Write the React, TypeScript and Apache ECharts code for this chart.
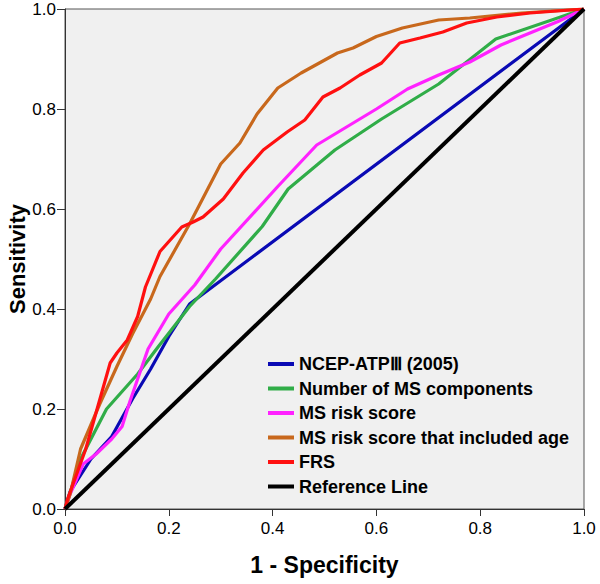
import React, { useEffect, useRef } from "react";
import * as echarts from "echarts";

const seriesNames = [
  "NCEP-ATPⅢ (2005)",
  "Number of MS components",
  "MS risk score",
  "MS risk score that included age",
  "FRS",
  "Reference Line",
];

const xTitle = "1 - Specificity";
const yTitle = "Sensitivity";

const ncep: number[][] = [
  [0, 0], [0.01, 0.035], [0.05, 0.1], [0.09, 0.145], [0.13, 0.22], [0.165, 0.28],
  [0.2, 0.345], [0.24, 0.41], [1, 1],
];

const msComponents: number[][] = [
  [0, 0], [0.03, 0.1], [0.08, 0.2], [0.14, 0.27], [0.18, 0.325], [0.24, 0.405],
  [0.29, 0.46], [0.38, 0.565], [0.43, 0.64], [0.52, 0.718], [0.61, 0.78],
  [0.72, 0.85], [0.83, 0.94], [1, 1],
];

const msRisk: number[][] = [
  [0, 0], [0.01, 0.03], [0.035, 0.09], [0.06, 0.11], [0.09, 0.14], [0.11, 0.165],
  [0.125, 0.215], [0.16, 0.32], [0.2, 0.39], [0.25, 0.448], [0.3, 0.52],
  [0.41, 0.645], [0.485, 0.728], [0.6, 0.8], [0.66, 0.84], [0.72, 0.868],
  [0.78, 0.894], [0.84, 0.928], [0.95, 0.975], [1, 1],
];

const msRiskAge: number[][] = [
  [0, 0], [0.01, 0.03], [0.03, 0.12], [0.067, 0.21], [0.1, 0.285], [0.13, 0.35],
  [0.165, 0.42], [0.183, 0.465], [0.24, 0.57], [0.275, 0.64], [0.3, 0.69],
  [0.337, 0.732], [0.37, 0.79], [0.41, 0.842], [0.455, 0.872], [0.525, 0.912],
  [0.555, 0.922], [0.6, 0.945], [0.65, 0.962], [0.72, 0.978], [0.78, 0.982],
  [0.88, 0.992], [1, 1],
];

const frs: number[][] = [
  [0, 0], [0.005, 0.02], [0.04, 0.12], [0.087, 0.292], [0.1, 0.312], [0.12, 0.338],
  [0.14, 0.385], [0.155, 0.444], [0.183, 0.515], [0.225, 0.564], [0.247, 0.574],
  [0.266, 0.584], [0.305, 0.62], [0.343, 0.672], [0.382, 0.718], [0.428, 0.754],
  [0.462, 0.778], [0.497, 0.824], [0.53, 0.842], [0.568, 0.868], [0.61, 0.892],
  [0.645, 0.932], [0.684, 0.942], [0.728, 0.954], [0.774, 0.972], [0.832, 0.984],
  [0.896, 0.992], [1, 1],
];

const reference: number[][] = [
  [0, 0], [1, 1],
];

const seriesData = [ncep, msComponents, msRisk, msRiskAge, frs, reference];
const colors = ["#0a0ab4", "#30ad48", "#ff22ff", "#c8681c", "#ff1010", "#000000"];
const widths = [3.2, 3.2, 3.2, 3.2, 3.2, 4];

export default function App() {
  const ref = useRef<HTMLDivElement>(null);
  useEffect(() => {
    if (!ref.current) return;
    const chart = echarts.init(ref.current, undefined, { renderer: "svg" });
    const font = "Liberation Sans, Arial, sans-serif";
    chart.setOption({
      animation: false,
      grid: {
        left: 65,
        right: 16,
        top: 9,
        bottom: 75,
        show: true,
        backgroundColor: "#f0f0f0",
        borderColor: "#555",
        borderWidth: 1,
        outerBoundsMode: "none",
        containLabel: false,
      },
      graphic: [
        {
          type: "text",
          x: 17,
          y: 259,
          rotation: Math.PI / 2,
          style: {
            text: yTitle,
            fill: "#000",
            font: `bold 22px ${font}`,
            align: "center",
            verticalAlign: "middle",
          },
        },
      ],
      legend: {
        orient: "vertical",
        left: 263,
        top: 350,
        icon: "rect",
        itemWidth: 26,
        itemHeight: 4,
        itemGap: 6.5,
        data: seriesNames,
        textStyle: {
          fontFamily: font,
          fontWeight: "bold",
          fontSize: 18,
          color: "#000",
          lineHeight: 18,
        },
      },
      xAxis: {
        type: "value",
        min: 0,
        max: 1,
        interval: 0.2,
        name: xTitle,
        nameLocation: "middle",
        nameGap: 44,
        nameTextStyle: { fontFamily: font, fontWeight: "bold", fontSize: 23, color: "#000" },
        axisLine: { show: true, lineStyle: { color: "#333", width: 1 } },
        axisTick: { show: true, length: 7, lineStyle: { color: "#333" } },
        axisLabel: {
          fontFamily: font,
          fontSize: 17,
          color: "#000",
          margin: 11,
          formatter: (v: number) => v.toFixed(1),
        },
        splitLine: { show: false },
      },
      yAxis: {
        type: "value",
        min: 0,
        max: 1,
        interval: 0.2,
        axisLine: { show: true, lineStyle: { color: "#333", width: 1 } },
        axisTick: { show: true, length: 8, lineStyle: { color: "#333" } },
        axisLabel: {
          fontFamily: font,
          fontSize: 17,
          color: "#000",
          margin: 9,
          formatter: (v: number) => v.toFixed(1),
        },
        splitLine: { show: false },
      },
      series: seriesNames.map((name, i) => ({
        name,
        type: "line",
        data: seriesData[i],
        showSymbol: false,
        symbol: "none",
        color: colors[i],
        lineStyle: { color: colors[i], width: widths[i] },
        z: 2 + i,
      })),
    });
    return () => chart.dispose();
  }, []);
  return (
    <div
      ref={ref}
      style={{ position: "absolute", left: 0, top: 0, width: 600, height: 584 }}
    />
  );
}
